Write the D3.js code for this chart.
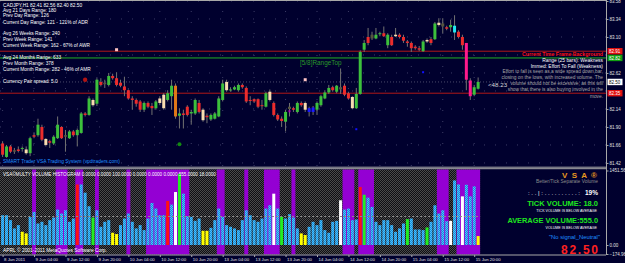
<!DOCTYPE html>
<html>
<head>
<meta charset="utf-8">
<script src="https://cdn.jsdelivr.net/npm/d3@7"></script>
<style>
  body { margin: 0; background: #00002e; }
  svg { display: block; font-family: "Liberation Sans", Arial, sans-serif; }
</style>
</head>
<body>
<div id="chart"></div>
<script>
// ---- price bars, CADJPY H1, 8 Jun 20:00 .. 15 Jun 21:00 ----
const opens = [81.68,81.50,81.64,81.57,81.60,81.61,81.60,81.55,81.79,81.79,81.90,81.74,81.71,81.68,81.75,81.90,81.79,81.75,81.84,81.79,
  81.82,82.08,82.06,82.26,82.21,82.50,82.49,82.46,82.58,82.55,82.49,82.44,82.39,82.28,82.26,82.24,82.13,82.22,82.18,82.15,
  82.28,82.33,82.26,82.31,82.45,82.05,82.08,82.17,82.08,82.08,82.22,82.13,82.05,82.00,82.01,82.04,82.26,82.50,82.39,82.40,
  82.39,82.46,82.42,82.26,82.27,82.27,82.19,82.17,82.37,82.22,82.06,82.01,81.97,82.17,82.15,82.10,82.22,82.22,82.15,82.16,
  82.13,82.19,82.28,82.36,82.43,82.37,82.43,82.45,82.35,82.30,82.15,82.34,82.93,83.10,83.13,83.08,83.14,83.15,83.13,82.99,
  83.13,83.13,83.10,83.04,83.02,82.97,82.95,82.91,83.06,83.07,83.07,83.29,83.28,83.23,83.23,83.25,83.17,83.10,83.02,82.52,
  82.33,82.41];
const highs = [81.71,81.66,81.66,81.62,81.64,81.64,81.64,81.77,81.82,82.01,81.93,81.75,81.73,81.79,82.04,81.91,81.86,81.86,81.86,81.88,
  82.10,82.10,82.31,82.28,82.55,82.55,82.53,82.62,82.61,82.63,82.53,82.57,82.40,82.31,82.28,82.26,82.24,82.24,82.22,82.26,
  82.31,82.35,82.39,82.53,82.48,82.15,82.13,82.19,82.13,82.28,82.26,82.15,82.08,82.08,82.10,82.31,82.53,82.53,82.43,82.45,
  82.48,82.48,82.44,82.31,82.28,82.28,82.26,82.37,82.40,82.24,82.08,82.04,82.13,82.22,82.17,82.24,82.24,82.24,82.17,82.18,
  82.24,82.33,82.39,82.46,82.45,82.46,82.68,82.48,82.37,82.31,82.42,82.92,83.06,83.22,83.17,83.22,83.17,83.24,83.15,83.13,
  83.22,83.15,83.13,83.06,83.04,82.99,82.98,83.06,83.08,83.10,83.30,83.35,83.35,83.25,83.33,83.39,83.19,83.13,83.02,82.55,
  82.46,82.56];
const lows = [81.50,81.49,81.55,81.54,81.56,81.57,81.53,81.51,81.75,81.77,81.71,81.64,81.62,81.66,81.74,81.74,81.57,81.74,81.77,81.64,
  81.81,82.04,82.05,82.17,82.18,82.44,82.42,82.44,82.53,82.44,82.43,82.31,82.27,82.13,82.17,82.10,82.10,82.15,82.06,82.13,
  82.19,82.13,82.24,82.13,82.01,81.88,81.88,82.04,81.93,82.06,82.08,81.97,81.95,81.98,82.00,82.03,82.24,82.37,82.37,82.39,
  82.37,82.41,82.22,82.19,82.22,82.15,82.13,82.16,82.24,82.04,81.98,81.90,81.84,82.04,82.10,82.08,82.17,82.10,82.04,82.06,
  82.06,82.17,82.27,82.34,82.37,82.35,82.34,82.31,82.27,82.14,82.14,82.33,82.90,82.99,83.06,83.07,83.11,83.10,82.95,82.98,
  83.10,83.08,83.02,82.97,82.90,82.93,82.91,82.90,83.02,82.99,83.06,83.24,83.15,83.19,83.17,83.06,83.08,82.93,82.39,82.26,
  82.31,82.40];
const closes = [81.53,81.64,81.57,81.59,81.58,81.62,81.55,81.75,81.77,81.93,81.73,81.66,81.69,81.77,81.93,81.75,81.77,81.84,81.79,81.86,
  82.08,82.06,82.28,82.19,82.53,82.46,82.47,82.58,82.55,82.46,82.45,82.39,82.28,82.26,82.21,82.13,82.22,82.17,82.15,82.24,
  82.22,82.15,82.35,82.45,82.04,82.08,82.06,82.06,82.10,82.26,82.10,81.99,82.03,82.06,82.08,82.28,82.48,82.39,82.40,82.43,
  82.46,82.43,82.24,82.25,82.24,82.17,82.18,82.35,82.26,82.06,82.00,81.98,82.10,82.14,82.13,82.22,82.19,82.13,82.10,82.10,
  82.22,82.31,82.36,82.42,82.39,82.45,82.40,82.33,82.28,82.15,82.34,82.90,83.02,83.02,83.08,83.13,83.15,83.11,82.99,83.10,
  83.11,83.10,83.05,83.02,82.95,82.95,82.93,83.04,83.04,83.02,83.28,83.26,83.24,83.21,83.26,83.16,83.10,82.99,82.53,82.31,
  82.43,82.50];
// VSA bar type: b bull, s bear, c cream, d dim, o orange, k cyan, m magenta, u blue
const barType = ("sbsdsbcbsbscsbbsdbsb" + "bsbcbsdbssssssssbssb" + "ccbbobssbbscsbbbbcbb" +
  "bssssssbcsssbdsbscuu" + "bbbbsbdsscbbbsdbbsbs" + "cssssssbcsbcdsbkssmm" + "bb").split("");

// ---- volume histogram ----
const volumes = [580,580,484,323,387,258,226,548,645,419,452,387,484,535,690,613,677,452,516,1180,
  1180,1019,755,535,677,355,452,484,239,213,387,516,613,452,323,387,290,516,819,710,
  580,580,858,787,1032,1387,1000,561,548,471,516,277,277,335,484,710,548,387,355,323,
  290,484,677,580,484,452,516,710,774,1000,710,548,516,600,535,323,226,194,355,452,
  387,484,290,239,452,471,871,690,710,484,497,1129,980,922,742,452,387,484,484,387,
  258,323,419,503,516,303,303,290,342,452,774,613,677,464,471,1258,1180,948,1174,948,
  1142,174];
// n normal, y low, r ultra high, w high, g rising
const volType = ("nnnnnyynnnnnnnnnnnnr" + "nnngnnnnyynnnnnnnnnn" + "nnrnwgnnnnnyynnnnnnn" +
  "nnnnnnnnnwngnnnnyynn" + "nnnnnnwnnnnrgnnnnnnn" + "nnngnnnngnnnnnwnnwnn" + "ny").split("");
const avgVolume = 555;
// background bands (bar index ranges)
const bands = [[8,8],[14,16],[19,20],[24,24],[32,32],[37,47],[55,56],[62,62],[67,70],[74,74],[87,89],[91,94],[111,113],[116,121]];

const timeTicks = [[0,"8 Jun 2011"],[8,"9 Jun 04:00"],[16,"9 Jun 12:00"],[24,"9 Jun 20:00"],[32,"10 Jun 04:00"],
  [40,"10 Jun 12:00"],[48,"10 Jun 20:00"],[56,"13 Jun 04:00"],[64,"13 Jun 12:00"],[72,"13 Jun 20:00"],
  [80,"14 Jun 04:00"],[88,"14 Jun 12:00"],[96,"14 Jun 20:00"],[104,"15 Jun 04:00"],[112,"15 Jun 12:00"],[120,"15 Jun 20:00"]];
const priceTicks = [83.58,83.34,83.10,82.86,82.62,82.38,82.14,81.90,81.66,81.42];
const volTicks = [1451.56, 0, -174.96];

const levels = [{p: 82.91, c: "#b01818", tag: "#e01010"}, {p: 82.82, c: "#22b022", tag: "#10a010"}, {p: 82.35, c: "#b01818", tag: "#e01010"}];
const lastPrice = 82.50;
// signal markers [bar, price, kind]
const markers = [[21,82.53,"dot-r"],[45,81.67,"dot-g"],[29,82.93,"sq-p"],[77,82.53,"sq-p"],[90,81.87,"sq-b"],[107,82.63,"sq-b"],[73,82.11,"sq-m"]];

const infoLines = [["CADJPY,H1  82.41 82.56 82.40 82.50",5],["Avg 21 Days Range: 180",10.3],["Prev Day Range: 126",15.7],
  ["Current Day Range: 121 - 121% of ADR",22],["Avg 26 Weeks Range: 240",33.7],["Prev Week Range: 141",39.3],
  ["Current Week Range: 162 - 67% of AWR",45],["Avg 24 Months Range: 633",57],["Prev Month Range: 378",63],
  ["Current Month Range: 282 - 46% of AMR",69],["Currency Pair spread: 5.0",81]];
const noteLines = ["Effort to fall is seen as a wide spread down bar,","closing on the lows, with increased volume. The",
  "volume should not be excessive, as this will","show that there is also buying involved in the","move."];

const W = 625, H = 263;
const plotR = 606, mainB = 167, volT = 169.5, volB = 254.5;

const svg = d3.select("#chart").append("svg").attr("width", W).attr("height", H);
const defs = svg.append("defs");
const dither = defs.append("pattern").attr("id", "dither").attr("width", 2).attr("height", 2).attr("patternUnits", "userSpaceOnUse");
dither.append("rect").attr("width", 2).attr("height", 2).attr("fill", "#0e0e14");
dither.append("rect").attr("width", 1).attr("height", 1).attr("fill", "#4a4a4a");
dither.append("rect").attr("x", 1).attr("y", 1).attr("width", 1).attr("height", 1).attr("fill", "#4a4a4a");
const bluePat = defs.append("pattern").attr("id", "bluepat").attr("width", 2).attr("height", 2).attr("patternUnits", "userSpaceOnUse");
bluePat.append("rect").attr("width", 2).attr("height", 2).attr("fill", "#1c8ad8");
bluePat.append("rect").attr("width", 1).attr("height", 1).attr("fill", "#48c4ff");
bluePat.append("rect").attr("x", 1).attr("y", 1).attr("width", 1).attr("height", 1).attr("fill", "#48c4ff");

svg.append("rect").attr("width", W).attr("height", H).attr("fill", "#00002e");

const x = d3.scaleLinear().domain([0, 121]).range([2.6, 2.6 + 121 * 3.93]);
const y = d3.scaleLinear().domain([83.593, 81.366]).range([0, mainB]);
const yv = d3.scaleLinear().domain([0, 1451.56]).range([245, 170.5]);

// ---- main panel ----
const main = svg.append("g");
main.selectAll(".hgrid").data(priceTicks).enter().append("line")
  .attr("x1", 0).attr("x2", plotR).attr("y1", d => y(d)).attr("y2", d => y(d))
  .attr("stroke", "#3c3c66").attr("stroke-dasharray", "1,10");
main.selectAll(".vgrid").data(timeTicks).enter().append("line")
  .attr("x1", d => x(d[0])).attr("x2", d => x(d[0])).attr("y1", 0).attr("y2", mainB)
  .attr("stroke", "#3c3c66").attr("stroke-dasharray", "1,10");
main.append("line").attr("x1", 0).attr("x2", plotR).attr("y1", y(lastPrice)).attr("y2", y(lastPrice))
  .attr("stroke", "#4a4a6a").attr("stroke-dasharray", "1,2");

main.selectAll(".level").data(levels).enter().append("line")
  .attr("x1", 0).attr("x2", plotR).attr("y1", d => y(d.p)).attr("y2", d => y(d.p))
  .attr("stroke", d => d.c).attr("stroke-width", 1);

const bodyColor = {b: "#3cc03c", s: "#ec2c2c", c: "#f8dcb0", d: "#56563e", o: "#e07818", k: "#20e8f0", m: "#ff1a8c", u: "#1a1aff"};
const bars = main.selectAll(".bar").data(d3.range(opens.length)).enter().append("g");
bars.append("line")
  .attr("x1", i => x(i)).attr("x2", i => x(i))
  .attr("y1", i => y(highs[i])).attr("y2", i => y(lows[i]))
  .attr("stroke", "#727272").attr("stroke-width", 1);
bars.append("rect")
  .attr("x", i => x(i) - 1.5).attr("width", 3)
  .attr("y", i => y(Math.max(opens[i], closes[i])))
  .attr("height", i => Math.max(1, Math.abs(y(opens[i]) - y(closes[i]))))
  .attr("fill", i => bodyColor[barType[i]]);

markers.forEach(m => {
  const cx = x(m[0]), cy = y(m[1]);
  if (m[2] === "dot-r") main.append("circle").attr("cx", cx).attr("cy", cy).attr("r", 2.2).attr("fill", "#b01414");
  else if (m[2] === "dot-g") main.append("circle").attr("cx", cx).attr("cy", cy).attr("r", 2).attr("fill", "#128a12");
  else {
    const col = {"sq-p": "#ffc4c4", "sq-b": "#1010ff", "sq-m": "#b000b0"}[m[2]];
    const s = m[2] === "sq-p" ? 3 : 2;
    main.append("rect").attr("x", cx - s / 2).attr("y", cy - s / 2).attr("width", s).attr("height", s).attr("fill", col);
  }
});

main.selectAll(".info").data(infoLines).enter().append("text")
  .attr("x", 3).attr("y", d => d[1]).attr("dy", "0.35em")
  .attr("font-size", 4.8).attr("fill", "#ffffff").text(d => d[0]);

main.append("text").attr("x", 300).attr("y", 63).attr("dy", "0.35em")
  .attr("font-size", 6.4).attr("fill", "#2a9a2a").text("[5/8]RangeTop");
main.append("text").attr("x", 488).attr("y", 85).attr("dy", "0.35em")
  .attr("font-size", 6.2).attr("fill", "#d8d8d8").text("<48.23");

const rt = main.append("g").attr("text-anchor", "end");
rt.append("text").attr("x", 603).attr("y", 53.7).attr("dy", "0.35em").attr("font-size", 5.2)
  .attr("font-weight", "bold").attr("fill", "#ff1010").text("Current Time Frame Background");
rt.append("text").attr("x", 603).attr("y", 60.3).attr("dy", "0.35em").attr("font-size", 4.9)
  .attr("fill", "#ffffff").text("Range (25 bars): Weakness");
rt.append("text").attr("x", 603).attr("y", 66).attr("dy", "0.35em").attr("font-size", 4.9)
  .attr("fill", "#ffffff").text("Immed: Effort To Fall (Weakness)");
rt.selectAll(".note").data(noteLines).enter().append("text")
  .attr("x", 603).attr("y", (d, i) => [71.7, 77.7, 83.3, 89.7, 96][i]).attr("dy", "0.35em")
  .attr("font-size", 4.8).attr("fill", "#a8a8a8").text(d => d);

main.append("text").attr("x", 3).attr("y", 161.7).attr("dy", "0.35em").attr("font-size", 4.9)
  .attr("fill", "#1e90ff").text("SMART Trader VSA Trading System (vpdtraders.com)");

// ---- volume panel ----
const vol = svg.append("g");
vol.append("rect").attr("x", 0).attr("y", volT).attr("width", x(121) + 2).attr("height", volB - volT).attr("fill", "url(#dither)");
vol.selectAll(".band").data(bands).enter().append("rect")
  .attr("x", d => x(d[0]) - 1.965).attr("width", d => (d[1] - d[0] + 1) * 3.93)
  .attr("y", volT).attr("height", volB - volT).attr("fill", "#9400d3");

const volColor = {n: "url(#bluepat)", y: "#ffff00", r: "#ff1010", w: "#ffffff", g: "#22ee22"};
vol.selectAll(".vbar").data(volumes).enter().append("rect")
  .attr("x", (d, i) => x(i) - 1.5).attr("width", 3)
  .attr("y", d => yv(d)).attr("height", d => yv(0) - yv(d))
  .attr("fill", (d, i) => volColor[volType[i]]);
vol.append("line").attr("x1", 0).attr("x2", x(121) + 2).attr("y1", yv(avgVolume)).attr("y2", yv(avgVolume))
  .attr("stroke", "#8a8a8a").attr("stroke-dasharray", "2,2");

vol.append("text").attr("x", 3).attr("y", 174).attr("dy", "0.35em").attr("font-size", 4.6).attr("fill", "#ffffff")
  .text("VSA©MULTY VOLUME HISTOGRAM 0.0000 0.0000 100.0000 0.0000 0.0000 0.0000 555.0000 18.0000");
vol.append("text").attr("x", 3).attr("y", 250).attr("dy", "0.35em").attr("font-size", 4.9).attr("fill", "#ffffff")
  .text("APRL © 2001-2011 MetaQuotes Software Corp.");

const side = vol.append("g").attr("text-anchor", "end");
side.append("text").attr("x", 597).attr("y", 175.3).attr("dy", "0.35em").attr("font-size", 8).attr("font-weight", "bold")
  .attr("fill", "#e89a20").attr("textLength", 35).text("V S A ®");
side.append("text").attr("x", 598).attr("y", 181).attr("dy", "0.35em").attr("font-size", 4.9)
  .attr("fill", "#8c8c8c").text("Better/Tick Separate Volume");
side.append("text").attr("x", 580).attr("y", 192.7).attr("dy", "0.35em").attr("font-size", 6)
  .attr("fill", "#ffffff").attr("textLength", 52).text(":..|:..........:");
side.append("text").attr("x", 598).attr("y", 192.7).attr("dy", "0.35em").attr("font-size", 6.5).attr("font-weight", "bold")
  .attr("fill", "#ffffff").text("19%");
side.append("text").attr("x", 598).attr("y", 203.3).attr("dy", "0.35em").attr("font-size", 7.5).attr("font-weight", "bold")
  .attr("fill", "#1ee61e").text("TICK VOLUME: 18.0");
side.append("text").attr("x", 597).attr("y", 211).attr("dy", "0.35em").attr("font-size", 3.6)
  .attr("fill", "#ffffff").text("TICK VOLUME IS BELOW AVERAGE");
side.append("text").attr("x", 598).attr("y", 220.3).attr("dy", "0.35em").attr("font-size", 7.4).attr("font-weight", "bold")
  .attr("fill", "#1ee61e").text("AVERAGE VOLUME:555.0");
side.append("text").attr("x", 597).attr("y", 227.3).attr("dy", "0.35em").attr("font-size", 3.6)
  .attr("fill", "#ffffff").text("VOLUME IS BELOW AVERAGE");
side.append("text").attr("x", 600).attr("y", 237.3).attr("dy", "0.35em").attr("font-size", 5.9)
  .attr("fill", "#1e90ff").text("\"No signal_Neutral\"");
side.append("text").attr("x", 598).attr("y", 250).attr("dy", "0.35em").attr("font-size", 12).attr("font-weight", "bold")
  .attr("fill", "#ff2020").attr("textLength", 37).text("82.50");

// ---- frame and axes ----
const frame = svg.append("g").attr("stroke", "#a8a8a8").attr("stroke-width", 1);
frame.append("line").attr("x1", 0).attr("x2", plotR).attr("y1", 0.5).attr("y2", 0.5);
frame.append("line").attr("x1", 0).attr("x2", plotR).attr("y1", 167.2).attr("y2", 167.2);
frame.append("line").attr("x1", 0).attr("x2", plotR).attr("y1", 168.7).attr("y2", 168.7);
frame.append("line").attr("x1", 0).attr("x2", plotR).attr("y1", 255).attr("y2", 255);
frame.append("line").attr("x1", plotR + 0.5).attr("x2", plotR + 0.5).attr("y1", 0).attr("y2", 255);

const tagPrices = levels.map(d => d.p).concat([lastPrice]);
// labels hidden behind a price tag are left out, as in the terminal
const shownTicks = priceTicks.filter(t => tagPrices.every(p => Math.abs(y(p) - y(t)) > 5.5));
const pAxis = svg.append("g").attr("transform", `translate(${plotR + 0.5},0)`)
  .call(d3.axisRight(y).tickValues(shownTicks).tickFormat(d3.format(".2f")).tickSize(2));
const vAxis = svg.append("g").attr("transform", `translate(${plotR + 0.5},0)`)
  .call(d3.axisRight(yv).tickValues(volTicks).tickFormat(d3.format(".2f")).tickSize(2));
const tAxis = svg.append("g").attr("transform", "translate(0,255)")
  .call(d3.axisBottom(x).tickValues(timeTicks.map(d => d[0])).tickFormat((d, i) => timeTicks[i][1]).tickSize(2));
[pAxis, vAxis, tAxis].forEach(a => {
  a.select(".domain").remove();
  a.selectAll("line").attr("stroke", "#a8a8a8");
  a.selectAll("text").attr("fill", "#e0e0e0").attr("font-size", 4.5).attr("font-family", "Liberation Sans, Arial, sans-serif");
});
pAxis.selectAll("text").attr("x", 3);
vAxis.selectAll("text").attr("x", 3);
tAxis.selectAll("text").attr("text-anchor", "start").attr("x", 1).attr("y", 3).attr("font-size", 4.3);

// price tags on the axis
const tags = levels.map(d => ({p: d.p, fill: d.tag, txt: "#ffffff"})).concat([{p: lastPrice, fill: "#ffffff", txt: "#000000"}]);
const tg = svg.selectAll(".tag").data(tags).enter().append("g")
  .attr("transform", d => `translate(${plotR + 1},${y(d.p)})`);
tg.append("rect").attr("x", 0.5).attr("y", -3.2).attr("width", 15).attr("height", 6.4).attr("fill", d => d.fill);
tg.append("text").attr("x", 2).attr("dy", "0.35em").attr("font-size", 4.5).attr("fill", d => d.txt)
  .text(d => d.p.toFixed(2));
</script>
</body>
</html>
